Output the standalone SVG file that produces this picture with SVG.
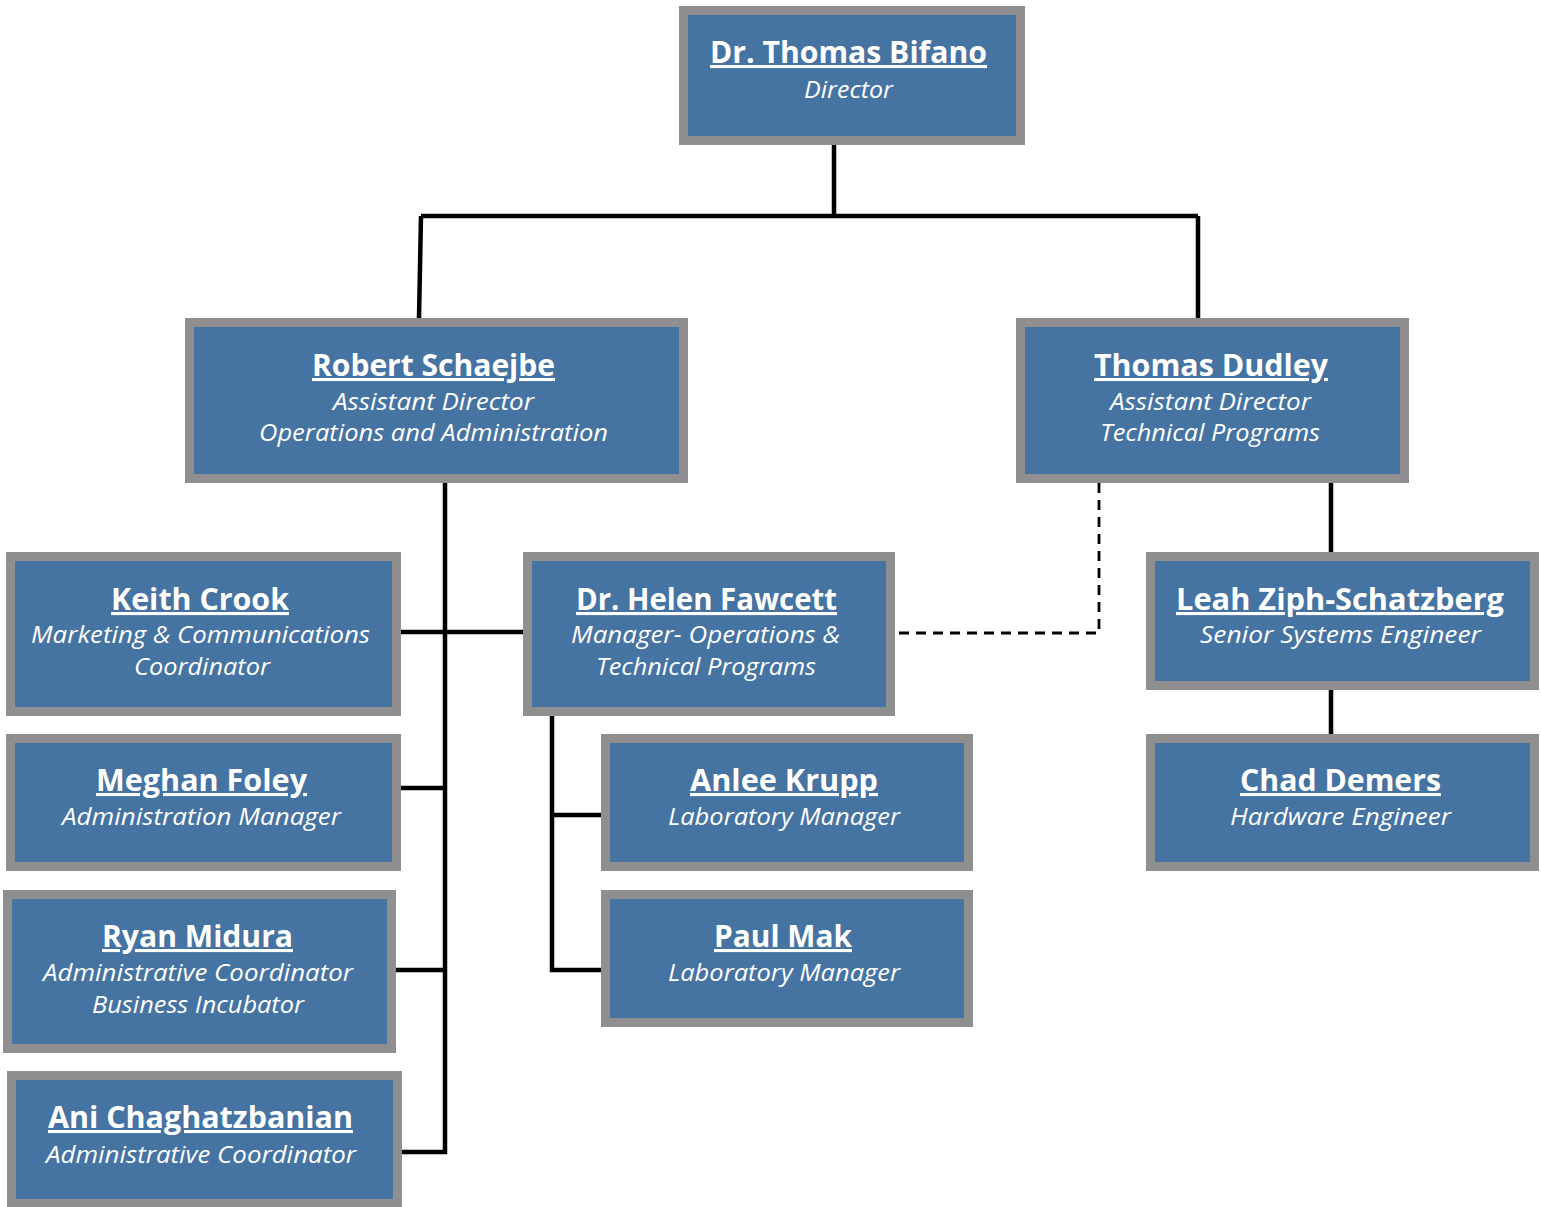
<svg xmlns="http://www.w3.org/2000/svg" width="1541" height="1207" viewBox="0 0 1541 1207">
<style>
.box{fill:#4573a2;stroke:#8f8f8f;stroke-width:9}
.nm{font-family:"Open Sans","Liberation Sans",sans-serif;font-weight:bold;font-size:31px;fill:#fff;text-anchor:middle;text-decoration:underline}
.sb{font-family:"Open Sans","Liberation Sans",sans-serif;font-style:italic;font-size:24px;fill:#fff;text-anchor:middle}
.ln{fill:none;stroke:#000;stroke-width:4.5}
.dl{fill:none;stroke:#000;stroke-width:2.8;stroke-dasharray:10 7}
</style>
<rect width="1541" height="1207" fill="#fff"/>
<g id="connectors">
<path class="ln" d="M834 145V216M421 216H1198M421 216L419 318M1198 216V318"/>
<path class="ln" d="M445 483V1152H402M401 632H523M401 788H445M396 970H445"/>
<path class="ln" d="M552 716V970H601M552 815H601"/>
<path class="ln" d="M1331 483V552M1331 690V734"/>
<path class="dl" d="M1099 483V633H895"/>
</g>
<g id="bifano"><rect class="box" x="683.5" y="10.5" width="337" height="130"/>
<text class="nm" x="848.5" y="63" textLength="277" lengthAdjust="spacingAndGlyphs">Dr. Thomas Bifano</text>
<text class="sb" x="848.5" y="98" textLength="89" lengthAdjust="spacingAndGlyphs">Director</text></g>
<g id="schaejbe"><rect class="box" x="189.5" y="322.5" width="494" height="156"/>
<text class="nm" x="433.5" y="376" textLength="243" lengthAdjust="spacingAndGlyphs">Robert Schaejbe</text>
<text class="sb" x="433.5" y="410" textLength="201" lengthAdjust="spacingAndGlyphs">Assistant Director</text>
<text class="sb" x="433.5" y="441" textLength="349" lengthAdjust="spacingAndGlyphs">Operations and Administration</text></g>
<g id="dudley"><rect class="box" x="1020.5" y="322.5" width="384" height="156"/>
<text class="nm" x="1211" y="376" textLength="234" lengthAdjust="spacingAndGlyphs">Thomas Dudley</text>
<text class="sb" x="1210.5" y="410" textLength="201" lengthAdjust="spacingAndGlyphs">Assistant Director</text>
<text class="sb" x="1210" y="441" textLength="220" lengthAdjust="spacingAndGlyphs">Technical Programs</text></g>
<g id="crook"><rect class="box" x="10.5" y="556.5" width="386" height="155"/>
<text class="nm" x="200" y="610" textLength="178" lengthAdjust="spacingAndGlyphs">Keith Crook</text>
<text class="sb" x="200.5" y="643" textLength="339" lengthAdjust="spacingAndGlyphs">Marketing &amp; Communications</text>
<text class="sb" x="202" y="675" textLength="136" lengthAdjust="spacingAndGlyphs">Coordinator</text></g>
<g id="fawcett"><rect class="box" x="527.5" y="556.5" width="363" height="155"/>
<text class="nm" x="706.5" y="610" textLength="261" lengthAdjust="spacingAndGlyphs">Dr. Helen Fawcett</text>
<text class="sb" x="705.5" y="643" textLength="269" lengthAdjust="spacingAndGlyphs">Manager- Operations &amp;</text>
<text class="sb" x="706" y="675" textLength="220" lengthAdjust="spacingAndGlyphs">Technical Programs</text></g>
<g id="ziph"><rect class="box" x="1150.5" y="556.5" width="384" height="129"/>
<text class="nm" x="1340" y="610" textLength="328" lengthAdjust="spacingAndGlyphs">Leah Ziph-Schatzberg</text>
<text class="sb" x="1340.5" y="643" textLength="281" lengthAdjust="spacingAndGlyphs">Senior Systems Engineer</text></g>
<g id="foley"><rect class="box" x="10.5" y="738.5" width="386" height="128"/>
<text class="nm" x="201.5" y="791" textLength="211" lengthAdjust="spacingAndGlyphs">Meghan Foley</text>
<text class="sb" x="201.5" y="825" textLength="279" lengthAdjust="spacingAndGlyphs">Administration Manager</text></g>
<g id="krupp"><rect class="box" x="605.5" y="738.5" width="363" height="128"/>
<text class="nm" x="784" y="791" textLength="188" lengthAdjust="spacingAndGlyphs">Anlee Krupp</text>
<text class="sb" x="784" y="825" textLength="232" lengthAdjust="spacingAndGlyphs">Laboratory Manager</text></g>
<g id="demers"><rect class="box" x="1150.5" y="738.5" width="384" height="128"/>
<text class="nm" x="1340.5" y="791" textLength="201" lengthAdjust="spacingAndGlyphs">Chad Demers</text>
<text class="sb" x="1340.5" y="825" textLength="221" lengthAdjust="spacingAndGlyphs">Hardware Engineer</text></g>
<g id="midura"><rect class="box" x="7.5" y="894.5" width="384" height="154"/>
<text class="nm" x="197.5" y="947" textLength="191" lengthAdjust="spacingAndGlyphs">Ryan Midura</text>
<text class="sb" x="198" y="981" textLength="310" lengthAdjust="spacingAndGlyphs">Administrative Coordinator</text>
<text class="sb" x="198" y="1013" textLength="212" lengthAdjust="spacingAndGlyphs">Business Incubator</text></g>
<g id="mak"><rect class="box" x="605.5" y="894.5" width="363" height="128"/>
<text class="nm" x="783" y="947" textLength="138" lengthAdjust="spacingAndGlyphs">Paul Mak</text>
<text class="sb" x="784" y="981" textLength="232" lengthAdjust="spacingAndGlyphs">Laboratory Manager</text></g>
<g id="chaghatzbanian"><rect class="box" x="11.5" y="1075.5" width="386" height="128"/>
<text class="nm" x="200.5" y="1128" textLength="305" lengthAdjust="spacingAndGlyphs">Ani Chaghatzbanian</text>
<text class="sb" x="201" y="1163" textLength="310" lengthAdjust="spacingAndGlyphs">Administrative Coordinator</text></g>
</svg>
